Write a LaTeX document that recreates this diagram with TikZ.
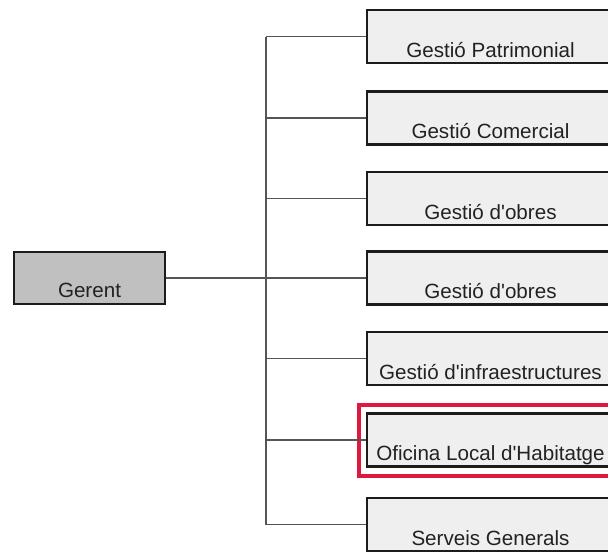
\documentclass[tikz,border=0pt]{standalone}
\usepackage{fontspec}
\setmainfont{Liberation Sans}
\definecolor{boxline}{HTML}{1C1C1C}
\definecolor{wire}{HTML}{555555}
\definecolor{unitfill}{HTML}{EFEFEF}
\definecolor{headfill}{HTML}{C0C0C0}
\definecolor{txt}{HTML}{222222}
\definecolor{mark}{RGB}{222,24,62}
\tikzset{
  unit/.style={draw=boxline, line width=2.8pt, fill=unitfill, text=txt,
    minimum width=247pt, minimum height=53pt, inner xsep=0pt, inner ysep=0pt,
    text height=47pt, text depth=6pt,
    font=\fontsize{20.6}{24}\selectfont},
  head/.style={unit, fill=headfill, minimum width=151pt, minimum height=52pt,
    text height=45pt, text depth=7pt},
  wireline/.style={draw=wire, line width=1.3pt},
  highlight/.style={draw=mark, line width=4pt, minimum width=280pt,
    minimum height=71pt, inner sep=0pt}
}
\newcommand{\q}{\textquotesingle}
\begin{document}
\begin{tikzpicture}[x=1pt,y=-1pt]
\useasboundingbox (0,0) rectangle (608,552);
\fill[white] (0,0) rectangle (608,552);
\clip (0,0) rectangle (608,552);

% head of the organisation
\node[head] (g) at (89.5,278) {Gerent};

% departments
\node[unit] (b1) at (490.5,36.5) {Gestió Patrimonial};
\node[unit] (b2) at (490.5,118) {Gestió Comercial};
\node[unit] (b3) at (490.5,198.5) {Gestió d\q obres};
\node[unit] (b4) at (490.5,278) {Gestió d\q obres};
\node[unit] (b5) at (490.5,358.5) {Gestió d\q infraestructures};
\node[unit] (b6) at (490.5,440) {Oficina Local d\q Habitatge};
\node[unit] (b7) at (490.5,524.5) {Serveis Generals};

% emphasis frame around the housing office
\node[highlight] (hl) at (499,440) {};

% connectors
\coordinate (t) at (266,0);
\draw[wireline] (g.east) -- (g.east -| t);
\draw[wireline] (b1.west -| t) -- (b7.west -| t);
\foreach \b in {b1,b2,b3,b4,b5,b6,b7}
  \draw[wireline] (\b.west -| t) -- (\b.west);
\end{tikzpicture}
\end{document}
